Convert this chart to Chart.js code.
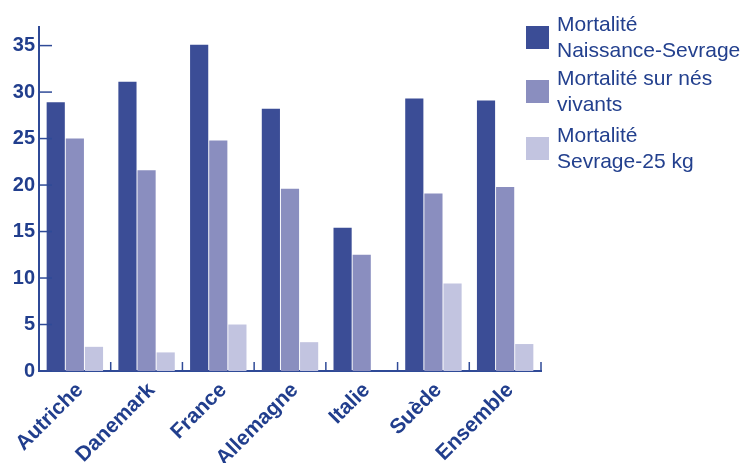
<!DOCTYPE html>
<html>
<head>
<meta charset="utf-8">
<script src="https://cdn.jsdelivr.net/npm/chart.js@4/dist/chart.umd.min.js"></script>
<style>
  html, body { margin: 0; padding: 0; background: #fff; }
  #wrap { position: relative; width: 745px; height: 463px; }
  #legend { position: absolute; left: 0; top: 0; }
  .item { position: absolute; left: 526px; display: flex; align-items: center; }
  .sw { width: 23px; height: 23px; flex: none; }
  .txt { margin-left: 8px; font-family: "Liberation Sans", Arial, sans-serif; font-size: 21px; line-height: 26px; color: #23408E; white-space: nowrap; }
</style>
</head>
<body>
<div id="wrap">
  <canvas id="c" width="745" height="463"></canvas>
  <div id="legend"></div>
</div>
<script>
const categories = ["Autriche", "Danemark", "France", "Allemagne", "Italie", "Suède", "Ensemble"];
const seriesNames = [["Mortalité", "Naissance-Sevrage"], ["Mortalité sur nés", "vivants"], ["Mortalité", "Sevrage-25 kg"]];
const naissanceSevrage = [28.9, 31.1, 35.1, 28.2, 15.4, 29.3, 29.1];
const surNesVivants = [25.0, 21.6, 24.8, 19.6, 12.5, 19.1, 19.8];
const sevrage25kg = [2.6, 2.0, 5.0, 3.1, 0.0, 9.4, 2.9];
const yTicks = [0, 5, 10, 15, 20, 25, 30, 35];

const colors = ["#3B4D96", "#8A8EBF", "#C2C4E0"];
const textColor = "#213E8D";
const axisColor = "#2F4A97";

const tickMarks = {
  id: "tickMarks",
  afterDraw(chart) {
    const ctx = chart.ctx, ca = chart.chartArea;
    const y = chart.scales.y, x = chart.scales.x;
    ctx.save();
    ctx.strokeStyle = axisColor;
    ctx.lineWidth = 1.5;
    yTicks.forEach(v => {
      const py = y.getPixelForValue(v);
      ctx.beginPath(); ctx.moveTo(ca.left, py); ctx.lineTo(ca.left + 13, py); ctx.stroke();
    });
    const n = categories.length;
    for (let i = 0; i < n; i++) {
      const px = i < n - 1 ? (x.getPixelForValue(i) + x.getPixelForValue(i + 1)) / 2 : ca.right;
      ctx.beginPath(); ctx.moveTo(px, ca.bottom); ctx.lineTo(px, ca.bottom - 9); ctx.stroke();
    }
    ctx.restore();
  }
};

const datasets = [naissanceSevrage, surNesVivants, sevrage25kg].map((d, i) => ({
  label: seriesNames[i].join(" "),
  data: d,
  backgroundColor: colors[i],
  borderWidth: 0,
  barPercentage: 0.95,
  categoryPercentage: 0.8
}));

new Chart(document.getElementById("c"), {
  type: "bar",
  data: { labels: categories, datasets },
  options: {
    responsive: false,
    animation: false,
    layout: { padding: { left: 0, right: 204, top: 27, bottom: 0 } },
    plugins: { legend: { display: false }, tooltip: { enabled: false } },
    scales: {
      x: {
        grid: { display: false, drawTicks: false },
        border: { display: true, color: axisColor, width: 2 },
        ticks: {
          color: textColor,
          font: { family: "Liberation Sans, Arial, sans-serif", size: 21, weight: "bold" },
          minRotation: 45, maxRotation: 45, padding: 7, labelOffset: 5
        },
        afterFit(s) { s.height = 92; }
      },
      y: {
        min: 0, max: 37,
        grid: { display: false, drawTicks: false },
        border: { display: true, color: axisColor, width: 2 },
        afterBuildTicks(s) { s.ticks = yTicks.map(v => ({ value: v })); },
        ticks: {
          color: textColor,
          font: { family: "Liberation Sans, Arial, sans-serif", size: 20, weight: "bold" },
          padding: 4
        },
        afterFit(s) { s.width = 39; }
      }
    }
  },
  plugins: [tickMarks]
});

const legendTops = [11, 65, 122];
const leg = document.getElementById("legend");
seriesNames.forEach((lines, i) => {
  const it = document.createElement("div");
  it.className = "item";
  it.style.top = legendTops[i] + "px";
  const sw = document.createElement("div");
  sw.className = "sw"; sw.style.background = colors[i];
  const tx = document.createElement("div");
  tx.className = "txt";
  tx.innerHTML = lines.join("<br>");
  it.appendChild(sw); it.appendChild(tx);
  leg.appendChild(it);
});
</script>
</body>
</html>
